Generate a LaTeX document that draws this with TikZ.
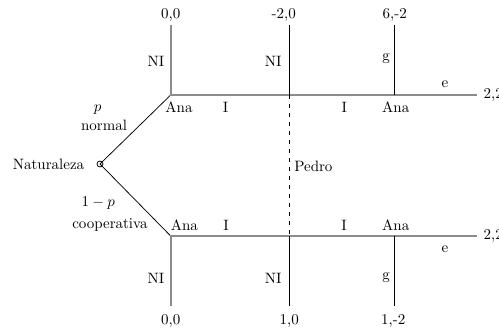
\documentclass[tikz,border=0pt]{standalone}
\begin{document}
\begin{tikzpicture}[x=0.6667pt,y=-0.6667pt,
  thick gray/.style={draw=gray!90,line width=1.1pt},
  thin black/.style={draw=black,line width=0.5pt},
  lbl/.style={inner sep=0pt,font=\normalsize}]
\useasboundingbox (0,0) rectangle (499,328);
% points
\coordinate (nat) at (100,164);
\coordinate (a1) at (170.7,95);
\coordinate (a2) at (170.7,236);
\coordinate (p1) at (289,95);
\coordinate (p2) at (289,236);
\coordinate (b1) at (394.5,95);
\coordinate (b2) at (394.5,236);
\coordinate (ta1) at (170.7,25);
\coordinate (ta2) at (170.7,306);
\coordinate (tp1) at (289,25);
\coordinate (tp2) at (289,306);
\coordinate (tb1) at (394.5,25);
\coordinate (tb2) at (394.5,306);
\coordinate (te1) at (476.7,95);
\coordinate (te2) at (476.7,236);
% connectors
\draw[thin black] (nat) -- (a1);
\draw[thin black] (nat) -- (a2);
\draw[thin black] (nat) circle (3);
\draw[thick gray] (ta1) -- (a1) -- (te1);
\draw[thick gray] (ta2) -- (a2) -- (te2);
\draw[thin black] (p1) -- (tp1);
\draw[thin black] (p2) -- (tp2);
\draw[thin black] (b1) -- (tb1);
\draw[thin black] (b2) -- (tb2);
\draw[thin black,dashed] (p1) -- (p2);
% labels
\node[lbl] (l00a) at (170.7,15) {0,0};
\node[lbl] (lm20) at (283.7,15) {-2,0};
\node[lbl] (l6m2) at (394.7,15) {6,-2};
\node[lbl] (l00b) at (170.7,321) {0,0};
\node[lbl] (l10) at (289.3,321) {1,0};
\node[lbl] (l1m2) at (393.3,321) {1,-2};
\node[lbl,anchor=west] (l22a) at (483.3,95) {2,2};
\node[lbl,anchor=west] (l22b) at (483.3,236) {2,2};
\node[lbl] (ni1) at (156,61.7) {NI};
\node[lbl] (ni2) at (273.3,61.7) {NI};
\node[lbl] (g1) at (386,59) {g};
\node[lbl] (e1) at (445,84) {e};
\node[lbl] (ana1) at (179,107.7) {Ana};
\node[lbl] (i1) at (225.7,107.7) {I};
\node[lbl] (i2) at (344.3,107.7) {I};
\node[lbl] (ana2) at (395.7,107.7) {Ana};
\node[lbl] (ana3) at (184.3,225) {Ana};
\node[lbl] (i3) at (226,225) {I};
\node[lbl] (i4) at (344,225) {I};
\node[lbl] (ana4) at (395.7,225) {Ana};
\node[lbl] (e2) at (445,249) {e};
\node[lbl] (ni3) at (156,278.3) {NI};
\node[lbl] (ni4) at (273.3,278.3) {NI};
\node[lbl] (g2) at (386,278) {g};
\node[lbl,anchor=west] (pedro) at (294,166) {Pedro};
\node[lbl,anchor=east] (natl) at (84.5,164) {Naturaleza};
\node[lbl] (pp) at (97.7,110) {$p$};
\node[lbl] (norm) at (104,125.7) {normal};
\node[lbl] (omp) at (98.3,203.3) {$1-p$};
\node[lbl] (coop) at (110,225) {cooperativa};
\end{tikzpicture}
\end{document}
